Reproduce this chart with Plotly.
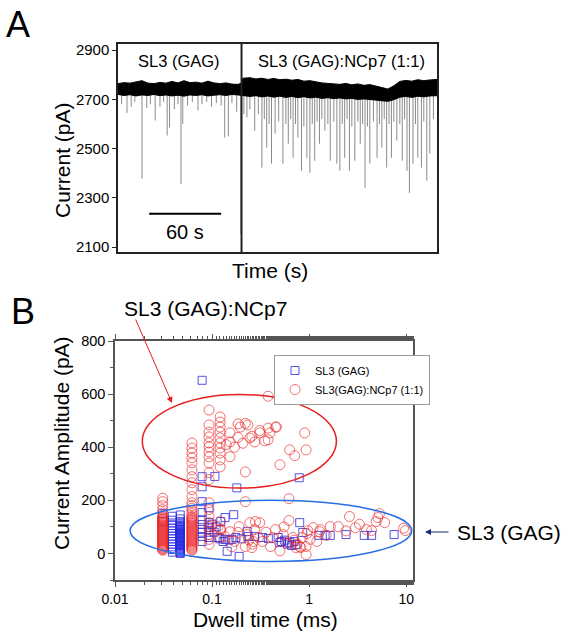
import plotly.graph_objects as go

W, H = 561, 634

# ---------------- Panel A data ----------------
band_t = [0, 5, 10, 15, 20, 25, 30, 35, 40, 45, 50, 55, 60, 65, 70, 75, 80, 85, 90, 95, 100, 103,
          104, 110, 115, 120, 125, 130, 135, 140, 145, 150, 155, 160, 165, 170, 175, 180, 185, 190,
          195, 200, 205, 210, 215, 220, 225, 230, 235, 240, 245, 250, 255, 260, 266]
band_top = [2764, 2768, 2766, 2771, 2776, 2766, 2764, 2769, 2766, 2773, 2767, 2776, 2768, 2770, 2766, 2774,
            2767, 2764, 2767, 2762, 2761, 2766,
            2786, 2788, 2783, 2786, 2781, 2785, 2780, 2782, 2778, 2781, 2774, 2776, 2770, 2767, 2765, 2763,
            2761, 2765, 2759, 2763, 2757, 2760, 2753, 2748, 2742, 2755, 2773, 2777, 2774, 2780, 2776, 2779, 2781]
band_bot = [2720, 2716, 2719, 2714, 2718, 2716, 2720, 2715, 2718, 2714, 2717, 2713, 2718, 2716, 2719, 2714,
            2717, 2719, 2716, 2720, 2718, 2716,
            2716, 2712, 2715, 2710, 2714, 2709, 2713, 2708, 2712, 2707, 2711, 2706, 2709, 2704, 2707, 2703,
            2706, 2702, 2704, 2700, 2702, 2699, 2698, 2694, 2692, 2699, 2709, 2712, 2708, 2713, 2710, 2714, 2715]

spike_t = [3, 7.5, 11, 14, 20, 24, 27, 31, 35, 38, 41, 43, 47, 50, 52.5, 54, 58, 62, 66.7, 70, 74, 78, 82,
           86, 89, 92, 95, 99, 102.5,
           105, 107.5, 110, 114, 117, 120, 122, 124, 126, 128, 131, 134, 137.5, 140, 142, 144, 146, 148, 150,
           153, 155, 157.5, 160, 162, 164, 166, 168, 170, 172.5, 175, 177, 180, 182.5, 185, 187, 189, 191,
           193, 195, 197.5, 200, 202, 204, 206, 208, 210, 213, 216, 218, 220, 222, 224, 226, 228, 230, 232.5,
           235, 237, 239, 241, 243, 246, 248, 250, 253, 255, 257.5, 260, 263]
spike_y = [2680, 2645, 2670, 2690, 2378, 2665, 2680, 2614, 2670, 2690, 2553, 2586, 2660, 2680, 2357, 2600,
           2675, 2690, 2655, 2680, 2690, 2670, 2685, 2675, 2545, 2550, 2685, 2650, 2153,
           2640, 2627, 2660, 2573, 2640, 2423, 2620, 2504, 2600, 2439, 2561, 2610, 2439, 2600, 2520, 2620,
           2463, 2600, 2545, 2410, 2590, 2463, 2402, 2600, 2451, 2610, 2520, 2620, 2573, 2600, 2451, 2610,
           2439, 2410, 2600, 2463, 2620, 2410, 2590, 2451, 2610, 2520, 2600, 2341, 2590, 2439, 2610, 2463,
           2600, 2504, 2620, 2423, 2600, 2463, 2610, 2533, 2600, 2451, 2620, 2410, 2320, 2439, 2600, 2463,
           2423, 2610, 2370, 2480, 2620]
spike_base = 2740
divider_t = 103
yticks_A = [2100, 2300, 2500, 2700, 2900]

# ---------------- Panel B data ----------------
# dense (solid-looking) columns
red_col031 = [12, 15, 18, 21, 24, 27, 30, 33, 36, 39, 42, 45, 48, 51, 54, 57, 60, 63, 66, 69, 72, 75, 78,
              81, 84, 87, 90, 93, 96, 99, 102, 105, 108, 111, 114, 117, 120, 123, 126, 129, 132, 136, 140,
              152, 165, 180, 195, 208]
red_col062 = [12, 16, 20, 24, 28, 32, 36, 40, 44, 48, 52, 56, 60, 64, 68, 72, 76, 80, 84, 88, 92, 96, 100,
              104, 108, 112, 116, 120, 124, 128, 132, 136, 140, 150, 160, 170, 180, 191, 214, 240, 266, 289,
              315, 341, 360, 378, 397, 416]
blue_col047 = [0, 3, 6, 9, 12, 15, 18, 21, 24, 27, 30, 33, 36, 39, 42, 45, 48, 51, 54, 57, 60, 63, 66, 69,
               72, 75, 78, 81, 84, 87, 90, 93, 96, 99, 102, 105, 108, 114, 120, 130, 145]

red_dwell = ([0.031] * len(red_col031) + [0.062] * len(red_col062) + [0.093] * 20 + [0.121] * 13 +
             [0.153, 0.153, 0.153, 0.185, 0.195, 0.208, 0.22, 0.234, 0.185, 0.22, 0.245, 0.257, 0.275,
              0.31, 0.31, 0.35, 0.395, 0.46, 0.378, 0.378, 0.45, 0.378, 0.9, 0.63, 0.71, 0.93, 0.5,
              0.17, 0.14] +
             [0.22, 0.245, 0.31, 0.153, 0.185, 0.275, 0.265, 0.22, 0.17, 0.257, 0.136, 0.115, 0.123, 0.33,
              0.23, 0.19, 0.28, 0.62, 0.62, 2.6, 5.1, 5.3, 6.0, 4.9, 9.8, 9.4, 1.65, 2.0, 3.0, 3.9, 4.4,
              1.1, 0.97, 1.28, 1.5, 0.8, 0.93, 0.73, 0.82, 0.4, 0.54, 0.45, 1.02, 1.2, 0.42, 0.68, 0.93,
              0.36, 0.6, 0.7, 0.85, 0.5, 1.3, 0.95, 0.55, 2.4, 3.3, 0.75, 0.3, 0.26, 0.24, 0.16])
red_amp = (red_col031 + red_col062 +
           [34, 53, 71, 90, 101, 116, 139, 165, 191, 278, 304, 341, 364, 382, 401, 416, 439, 457, 484, 540] +
           [60, 90, 120, 326, 352, 378, 397, 416, 435, 457, 476, 495, 514] +
           [454, 420, 364, 437, 476, 415, 490, 484, 488, 307, 435, 441, 420, 463, 454, 424, 454, 476, 592,
            472, 476, 428, 454, 390, 368, 390, 334, 400, 410] +
           [195, 116, 116, 82, 79, 90, 45, 26, 45, 22, 64, 101, 90, 45, 71, 101, 120, 206, 124, 139, 135,
            150, 116, 120, 86, 95, 101, 101, 97, 90, 86, 97, 86, 82, 68, 26, -4, 22, 22, 26, 71, 90, 53,
            45, 60, 60, 26, 80, 40, 50, 60, 10, 90, 75, 100, 85, 110, 35, 60, 35, 50, 25])

blue_dwell = ([0.031] * 2 + [0.039] * 14 + [0.047] * len(blue_col047) + [0.079] * 11 + [0.093] * 5 +
              [0.107, 0.18, 0.136, 0.167, 0.123, 0.115, 0.136, 0.16, 0.176, 0.143, 0.19, 0.23, 0.235, 0.275,
               0.33, 0.79, 0.8, 0.86, 0.48, 0.52, 0.63, 0.73, 1.26, 1.46, 1.65, 2.4, 3.7, 4.4, 7.5, 0.5,
               0.38, 0.12, 0.13, 0.15, 0.2, 0.11, 0.105, 0.1, 0.56, 0.6, 0.7, 0.66])
blue_amp = ([150, 120] +
            [5, 15, 25, 35, 45, 55, 65, 75, 85, 95, 105, 115, 125, 140] +
            blue_col047 +
            [45, 64, 80, 90, 109, 127, 154, 195, 251, 289, 652] +
            [98, 116, 172, 60, 80] +
            [290, 247, 135, 146, 120, 60, 53, 53, 60, 8, -11, 82, 64, 64, 60, 285, 116, 79, 60, 45, 41, 34,
             68, 68, 68, 71, 68, 68, 71, 41, 56, 55, 45, 50, 55, 100, 80, 110, 50, 35, 45, 30])

xticks_B = [0.01, 0.1, 1, 10]
xticktext_B = ["0.01", "0.1", "1", "10"]
yticks_B = [0, 200, 400, 600, 800]

red_ellipse = dict(x0=0.0191, x1=1.91, y0=246, y1=599)
blue_ellipse = dict(x0=0.0143, x1=11.4, y0=-30, y1=200)

FONT = "Arial, Liberation Sans, sans-serif"


def px_x(p):
    return p / W


def px_y(p):
    return 1 - p / H


fig = go.Figure()

# Panel A: spikes
sx, sy = [], []
for t, d in zip(spike_t, spike_y):
    sx += [t, t, None]
    sy += [spike_base, d, None]
fig.add_trace(go.Scatter(x=sx, y=sy, mode="lines", line=dict(color="#8a8a8a", width=1),
                         showlegend=False, hoverinfo="skip", xaxis="x", yaxis="y"))
fig.add_trace(go.Scatter(x=band_t, y=band_bot, mode="lines", line=dict(color="black", width=1),
                         showlegend=False, hoverinfo="skip", xaxis="x", yaxis="y"))
fig.add_trace(go.Scatter(x=band_t, y=band_top, mode="lines", line=dict(color="black", width=1),
                         fill="tonexty", fillcolor="black",
                         showlegend=False, hoverinfo="skip", xaxis="x", yaxis="y"))

# Panel B
fig.add_trace(go.Scatter(x=blue_dwell, y=blue_amp, mode="markers", name="SL3 (GAG)",
                         marker=dict(symbol="square-open", size=8, color="rgba(40,40,225,0.8)",
                                     line=dict(width=1)),
                         xaxis="x2", yaxis="y2"))
fig.add_trace(go.Scatter(x=red_dwell, y=red_amp, mode="markers", name="SL3(GAG):NCp7 (1:1)",
                         marker=dict(symbol="circle-open", size=10, color="rgba(235,40,40,0.65)",
                                     line=dict(width=1)),
                         xaxis="x2", yaxis="y2"))

shapes = [
    dict(type="line", xref="x", yref="y domain", x0=divider_t, x1=divider_t, y0=0, y1=1,
         line=dict(color="#222", width=2)),
    dict(type="line", xref="x", yref="y", x0=26, x1=86, y0=2235, y1=2235,
         line=dict(color="black", width=2)),
    dict(type="circle", xref="x2", yref="y2", line=dict(color="rgb(230,30,30)", width=1.5),
         **red_ellipse),
    dict(type="circle", xref="x2", yref="y2", line=dict(color="rgb(40,110,230)", width=1.5),
         **blue_ellipse),
]


def ptext(text, x, y, size, angle=0, xanchor="center", yanchor="middle"):
    return dict(text=text, x=px_x(x), y=px_y(y), xref="paper", yref="paper", showarrow=False,
                textangle=angle, xanchor=xanchor, yanchor=yanchor,
                font=dict(size=size, color="black", family=FONT))


annotations = [
    ptext("A", 4, 2, 36, xanchor="left", yanchor="top"),
    ptext("B", 9, 289, 36, xanchor="left", yanchor="top"),
    dict(text="SL3 (GAG)", x=51, y=2855, xref="x", yref="y", showarrow=False,
         font=dict(size=16.5, color="black", family=FONT)),
    dict(text="SL3 (GAG):NCp7 (1:1)", x=186, y=2855, xref="x", yref="y", showarrow=False,
         font=dict(size=16.5, color="black", family=FONT)),
    dict(text="60 s", x=56, y=2163, xref="x", yref="y", showarrow=False,
         font=dict(size=20, color="black", family=FONT)),
    # axis titles
    ptext("Current (pA)", 62, 160, 21, angle=-90),
    ptext("Time (s)", 270, 270, 21),
    ptext("Current Amplitude (pA)", 61, 443, 21, angle=-90),
    ptext("Dwell time (ms)", 265, 619, 21),
    # callouts
    ptext("SL3 (GAG):NCp7", 205, 308, 21),
    dict(text="", x=px_x(172), y=px_y(403), xref="paper", yref="paper", showarrow=True,
         ax=-37, ay=-85, arrowcolor="rgb(230,30,30)", arrowwidth=1, arrowhead=2, arrowsize=1.2),
    ptext("SL3 (GAG)", 455, 532, 21, xanchor="left"),
    dict(text="", x=px_x(425), y=px_y(532), xref="paper", yref="paper", showarrow=True,
         ax=25, ay=0, arrowcolor="#1a2a6c", arrowwidth=1, arrowhead=2, arrowsize=1.2),
]

fig.update_layout(
    width=W, height=H, autosize=False,
    margin=dict(l=0, r=0, t=0, b=0),
    paper_bgcolor="white", plot_bgcolor="white",
    font=dict(family=FONT, color="black"),
    shapes=shapes, annotations=annotations,
    xaxis=dict(domain=[px_x(118), px_x(437)], range=[0, 266], anchor="y", automargin=False,
               showticklabels=False, ticks="", showgrid=False, zeroline=False,
               showline=True, mirror=True, linecolor="#222", linewidth=1.5),
    yaxis=dict(domain=[px_y(252), px_y(44)], range=[2080, 2925], anchor="x", automargin=False,
               tickvals=yticks_A, ticks="outside", ticklen=4, tickcolor="#222",
               tickfont=dict(size=15), showgrid=False, zeroline=False,
               showline=True, mirror=True, linecolor="#222", linewidth=1.5),
    xaxis2=dict(domain=[px_x(115), px_x(413)], type="log", range=[-2, 1.07], anchor="y2",
                automargin=False,
                tickvals=xticks_B, ticktext=xticktext_B, ticks="outside", ticklen=5, tickcolor="#555",
                minor=dict(ticks="outside", ticklen=3, tickcolor="#555", showgrid=False),
                tickfont=dict(size=14), showgrid=False, zeroline=False,
                showline=True, mirror="allticks", linecolor="#555", linewidth=1.5),
    yaxis2=dict(domain=[px_y(580), px_y(341)], range=[-100, 800], anchor="x2", automargin=False,
                tickvals=yticks_B, ticks="outside", ticklen=5, tickcolor="#555",
                minor=dict(ticks="outside", ticklen=3, dtick=100, tickcolor="#555", showgrid=False),
                tickfont=dict(size=14.5), showgrid=False, zeroline=False,
                showline=True, mirror=True, linecolor="#555", linewidth=1.5),
    legend=dict(x=px_x(274), y=px_y(355), xanchor="left", yanchor="top", traceorder="normal",
                bgcolor="white", bordercolor="#999", borderwidth=1,
                font=dict(size=11, family=FONT), tracegroupgap=0, itemwidth=30),
)

fig.write_html("out.html", config={"displayModeBar": False},
               post_script="document.body.style.margin='0';document.body.style.overflow='hidden';")
